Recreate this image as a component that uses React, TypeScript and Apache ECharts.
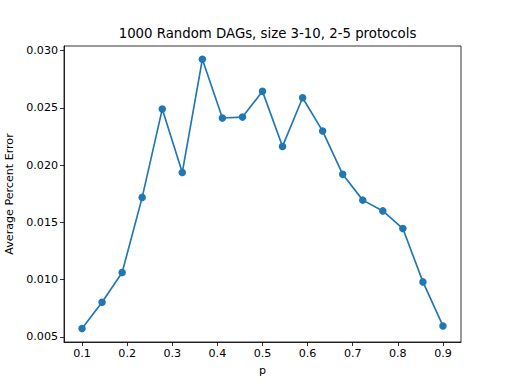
import React, { useEffect, useRef } from "react";
import * as echarts from "echarts";

const pValues = [
  0.1, 0.1444, 0.1889, 0.2333, 0.2778, 0.3222, 0.3667, 0.4111, 0.4556, 0.5,
  0.5444, 0.5889, 0.6333, 0.6778, 0.7222, 0.7667, 0.8111, 0.8556, 0.9,
];
const errors = [
  0.00573, 0.00803, 0.01063, 0.01719, 0.0249, 0.01937, 0.02925, 0.02412,
  0.0242, 0.02645, 0.02164, 0.02589, 0.02298, 0.0192, 0.01695, 0.01601,
  0.01447, 0.00981, 0.00596,
];
const xTicks = [0.1, 0.2, 0.3, 0.4, 0.5, 0.6, 0.7, 0.8, 0.9];
const yTicks = [0.005, 0.01, 0.015, 0.02, 0.025, 0.03];

const FONT = "DejaVu Sans";

export default function App() {
  const ref = useRef<HTMLDivElement>(null);
  useEffect(() => {
    if (!ref.current) return;
    const chart = echarts.init(ref.current, undefined, { renderer: "svg" });
    chart.setOption({
      animation: false,
      backgroundColor: "#ffffff",
      title: {
        text: "1000 Random DAGs, size 3-10, 2-5 protocols",
        left: 262.5,
        top: 22,
        textAlign: "center",
        textStyle: { fontFamily: FONT, fontSize: 13.3, fontWeight: "normal", color: "#000" },
      },
      grid: {
        left: 64,
        right: 51,
        top: 46,
        bottom: 42,
        outerBoundsMode: "none",
        containLabel: false,
        show: true,
        borderColor: "#000",
        borderWidth: 0.8,
        backgroundColor: "transparent",
      },
      xAxis: {
        type: "value",
        min: 0.06,
        max: 0.94,
        name: "p",
        nameLocation: "middle",
        nameGap: 23,
        nameTextStyle: { fontFamily: FONT, fontSize: 11.1, color: "#000" },
        splitLine: { show: false },
        axisLine: { show: true, onZero: false, lineStyle: { color: "#000", width: 0.8 } },
        axisTick: { show: true, customValues: xTicks, length: 4, lineStyle: { color: "#000", width: 0.8 } },
        axisLabel: {
          customValues: xTicks,
          formatter: (v: number) => v.toFixed(1),
          fontFamily: FONT,
          fontSize: 11.1,
          color: "#000",
          margin: 6,
        },
      },
      yAxis: {
        type: "value",
        min: 0.00456,
        max: 0.03041,
        name: "Average Percent Error",
        nameLocation: "middle",
        nameGap: 42,
        nameTextStyle: { fontFamily: FONT, fontSize: 11.1, color: "#000" },
        splitLine: { show: false },
        axisLine: { show: true, onZero: false, lineStyle: { color: "#000", width: 0.8 } },
        axisTick: { show: true, customValues: yTicks, length: 4, lineStyle: { color: "#000", width: 0.8 } },
        axisLabel: {
          customValues: yTicks,
          formatter: (v: number) => v.toFixed(3),
          fontFamily: FONT,
          fontSize: 11.1,
          color: "#000",
          margin: 6,
        },
      },
      series: [
        {
          type: "line",
          data: pValues.map((p, i) => [p, errors[i]]),
          color: "#1f77b4",
          lineStyle: { width: 1.67, color: "#1f77b4" },
          symbol: "circle",
          symbolSize: 7.5,
          showAllSymbol: true,
          itemStyle: { color: "#1f77b4", borderWidth: 0 },
        },
      ],
    });
    return () => chart.dispose();
  }, []);
  return <div ref={ref} style={{ width: 512, height: 384, position: "absolute", left: 0, top: 0 }} />;
}
